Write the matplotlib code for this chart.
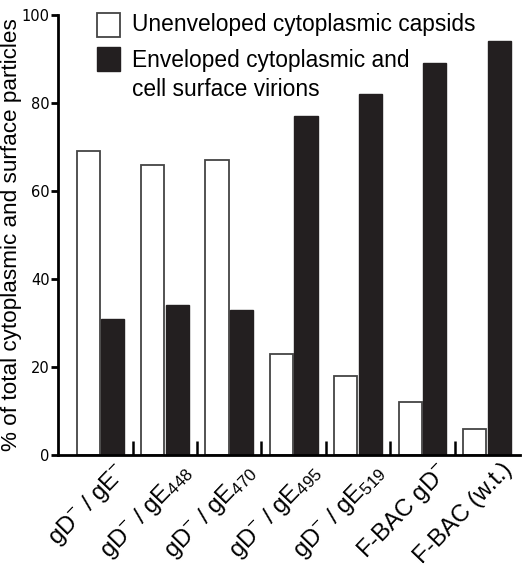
import numpy as np
import matplotlib.pyplot as plt
import matplotlib.transforms as mtransforms
from matplotlib.patches import Rectangle

# strains on the x axis
strains = [r"gD$^{-}$ / gE$^{-}$", r"gD$^{-}$ / gE$_{448}$", r"gD$^{-}$ / gE$_{470}$",
           r"gD$^{-}$ / gE$_{495}$", r"gD$^{-}$ / gE$_{519}$", r"F-BAC gD$^{-}$",
           "F-BAC (w.t.)"]
unenveloped = [69, 66, 67, 23, 18, 12, 6]
enveloped = [31, 34, 33, 77, 82, 89, 94]

plt.rcParams['font.family'] = ['Liberation Sans', 'DejaVu Sans']
plt.rcParams['mathtext.fontset'] = 'custom'
plt.rcParams['mathtext.rm'] = 'Liberation Sans'
plt.rcParams['mathtext.it'] = 'Liberation Sans'

fig = plt.figure(figsize=(5.22, 5.69), dpi=100)
ax = fig.add_axes([0.111, 0.2004, 0.886, 0.7732])

x = np.arange(len(strains))
w = 0.36
ax.bar(x - w / 2 - 0.01, unenveloped, width=w, color='white', edgecolor='#444444', linewidth=1.3)
ax.bar(x + w / 2 + 0.01, enveloped, width=w, color='#231f20', edgecolor='#231f20', linewidth=1.0)

ax.set_xlim(-0.66, 6.52)
ax.set_ylim(0, 100)

for s in ['top', 'right']:
    ax.spines[s].set_visible(False)
ax.spines['left'].set_linewidth(2)
ax.spines['bottom'].set_linewidth(2)

ax.set_yticks([0, 20, 40, 60, 80, 100])
ax.set_yticklabels(['0', '20', '40', '60', '80', '100'],
                   family=['Liberation Sans Narrow', 'DejaVu Sans'], fontsize=10.5)
ax.tick_params(axis='y', length=5, width=2, pad=1)

ax.set_xticks(x)
ax.set_xticklabels(strains, rotation=46, ha='right', rotation_mode='anchor', fontsize=17.3)
ax.tick_params(axis='x', length=0, pad=3)
shift = mtransforms.ScaledTranslation(14 / 100, 0, fig.dpi_scale_trans)
for lab in ax.get_xticklabels():
    lab.set_transform(lab.get_transform() + shift)
ax.set_xticks(x[:-1] + 0.5, minor=True)
ax.tick_params(axis='x', which='minor', direction='in', length=10, width=1.8)

ax.set_ylabel('% of total cytoplasmic and surface particles', fontsize=16.2, labelpad=0)

# legend drawn by hand in axes coords
ax.add_patch(Rectangle((0.084, 0.95), 0.05, 0.055, transform=ax.transAxes, facecolor='white',
                       edgecolor='#444444', linewidth=1.3, clip_on=False))
ax.add_patch(Rectangle((0.084, 0.873), 0.05, 0.054, transform=ax.transAxes, facecolor='#231f20',
                       edgecolor='#231f20', clip_on=False))
ax.text(0.16, 0.978, 'Unenveloped cytoplasmic capsids', transform=ax.transAxes,
        fontsize=16.4, va='center')
ax.text(0.16, 0.922, 'Enveloped cytoplasmic and\ncell surface virions', transform=ax.transAxes,
        fontsize=16.4, va='top', linespacing=1.3)

fig.savefig('out.png', dpi=100)
